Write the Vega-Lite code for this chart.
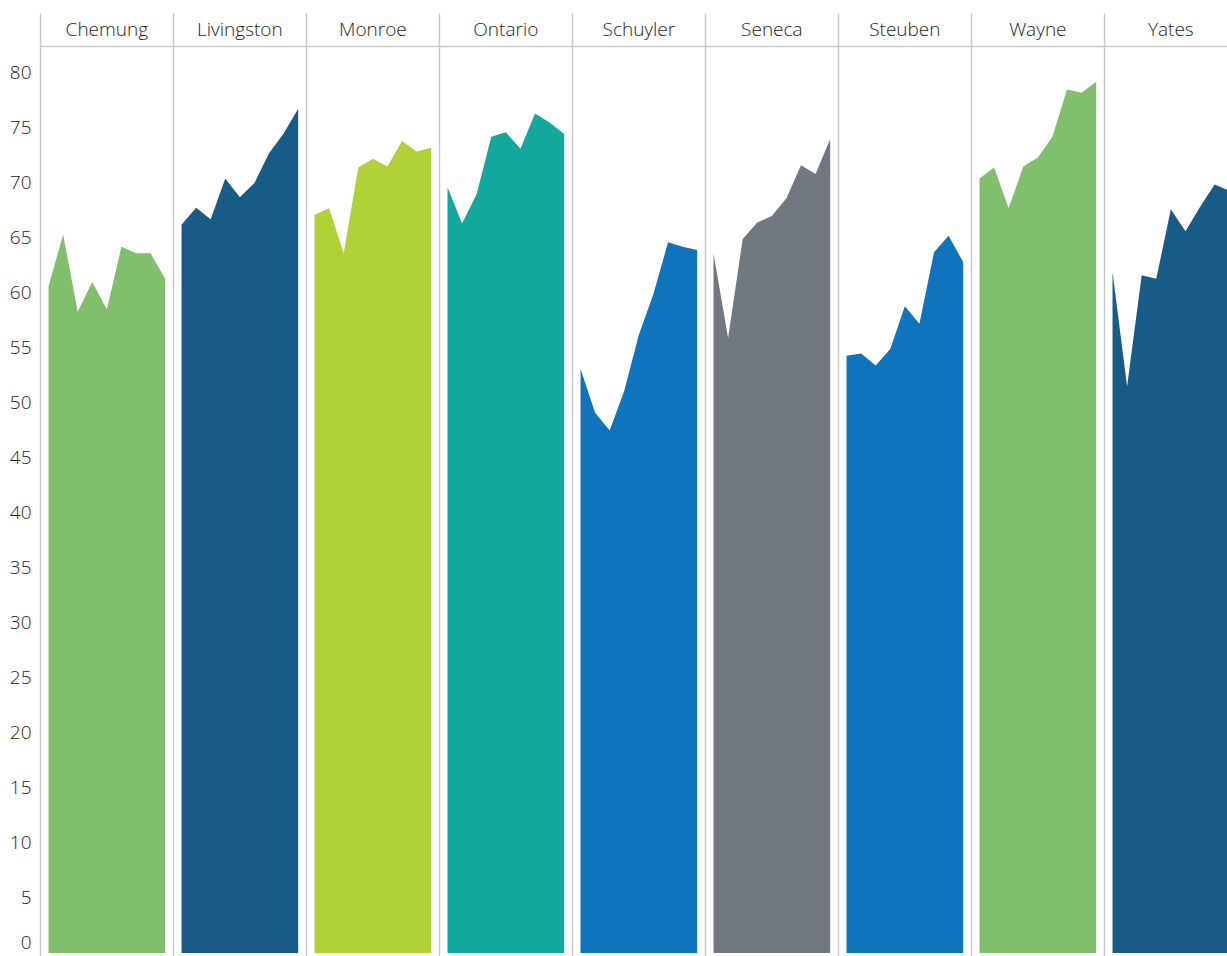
{
  "$schema": "https://vega.github.io/schema/vega-lite/v6.json",
  "padding": {"left": 8.5, "top": 12.5, "right": 0, "bottom": 0},
  "background": "white",
  "data": {"values": [
    {"county": "Chemung", "year": 2010, "value": 60.6},
    {"county": "Chemung", "year": 2011, "value": 65.3},
    {"county": "Chemung", "year": 2012, "value": 58.3},
    {"county": "Chemung", "year": 2013, "value": 61.0},
    {"county": "Chemung", "year": 2014, "value": 58.5},
    {"county": "Chemung", "year": 2015, "value": 64.2},
    {"county": "Chemung", "year": 2016, "value": 63.6},
    {"county": "Chemung", "year": 2017, "value": 63.6},
    {"county": "Chemung", "year": 2018, "value": 61.3},
    {"county": "Livingston", "year": 2010, "value": 66.2},
    {"county": "Livingston", "year": 2011, "value": 67.75},
    {"county": "Livingston", "year": 2012, "value": 66.7},
    {"county": "Livingston", "year": 2013, "value": 70.4},
    {"county": "Livingston", "year": 2014, "value": 68.7},
    {"county": "Livingston", "year": 2015, "value": 70.0},
    {"county": "Livingston", "year": 2016, "value": 72.7},
    {"county": "Livingston", "year": 2017, "value": 74.5},
    {"county": "Livingston", "year": 2018, "value": 76.75},
    {"county": "Monroe", "year": 2010, "value": 67.1},
    {"county": "Monroe", "year": 2011, "value": 67.7},
    {"county": "Monroe", "year": 2012, "value": 63.6},
    {"county": "Monroe", "year": 2013, "value": 71.4},
    {"county": "Monroe", "year": 2014, "value": 72.2},
    {"county": "Monroe", "year": 2015, "value": 71.5},
    {"county": "Monroe", "year": 2016, "value": 73.8},
    {"county": "Monroe", "year": 2017, "value": 72.85},
    {"county": "Monroe", "year": 2018, "value": 73.2},
    {"county": "Ontario", "year": 2010, "value": 69.6},
    {"county": "Ontario", "year": 2011, "value": 66.3},
    {"county": "Ontario", "year": 2012, "value": 69.0},
    {"county": "Ontario", "year": 2013, "value": 74.2},
    {"county": "Ontario", "year": 2014, "value": 74.6},
    {"county": "Ontario", "year": 2015, "value": 73.1},
    {"county": "Ontario", "year": 2016, "value": 76.3},
    {"county": "Ontario", "year": 2017, "value": 75.5},
    {"county": "Ontario", "year": 2018, "value": 74.45},
    {"county": "Schuyler", "year": 2010, "value": 53.1},
    {"county": "Schuyler", "year": 2011, "value": 49.1},
    {"county": "Schuyler", "year": 2012, "value": 47.5},
    {"county": "Schuyler", "year": 2013, "value": 51.1},
    {"county": "Schuyler", "year": 2014, "value": 56.2},
    {"county": "Schuyler", "year": 2015, "value": 59.9},
    {"county": "Schuyler", "year": 2016, "value": 64.6},
    {"county": "Schuyler", "year": 2017, "value": 64.2},
    {"county": "Schuyler", "year": 2018, "value": 63.9},
    {"county": "Seneca", "year": 2010, "value": 63.6},
    {"county": "Seneca", "year": 2011, "value": 55.9},
    {"county": "Seneca", "year": 2012, "value": 64.9},
    {"county": "Seneca", "year": 2013, "value": 66.4},
    {"county": "Seneca", "year": 2014, "value": 67.0},
    {"county": "Seneca", "year": 2015, "value": 68.6},
    {"county": "Seneca", "year": 2016, "value": 71.6},
    {"county": "Seneca", "year": 2017, "value": 70.8},
    {"county": "Seneca", "year": 2018, "value": 74.0},
    {"county": "Steuben", "year": 2010, "value": 54.3},
    {"county": "Steuben", "year": 2011, "value": 54.5},
    {"county": "Steuben", "year": 2012, "value": 53.4},
    {"county": "Steuben", "year": 2013, "value": 54.9},
    {"county": "Steuben", "year": 2014, "value": 58.8},
    {"county": "Steuben", "year": 2015, "value": 57.2},
    {"county": "Steuben", "year": 2016, "value": 63.7},
    {"county": "Steuben", "year": 2017, "value": 65.2},
    {"county": "Steuben", "year": 2018, "value": 62.8},
    {"county": "Wayne", "year": 2010, "value": 70.4},
    {"county": "Wayne", "year": 2011, "value": 71.4},
    {"county": "Wayne", "year": 2012, "value": 67.7},
    {"county": "Wayne", "year": 2013, "value": 71.5},
    {"county": "Wayne", "year": 2014, "value": 72.3},
    {"county": "Wayne", "year": 2015, "value": 74.2},
    {"county": "Wayne", "year": 2016, "value": 78.5},
    {"county": "Wayne", "year": 2017, "value": 78.2},
    {"county": "Wayne", "year": 2018, "value": 79.2},
    {"county": "Yates", "year": 2010, "value": 61.9},
    {"county": "Yates", "year": 2011, "value": 51.5},
    {"county": "Yates", "year": 2012, "value": 61.6},
    {"county": "Yates", "year": 2013, "value": 61.3},
    {"county": "Yates", "year": 2014, "value": 67.6},
    {"county": "Yates", "year": 2015, "value": 65.6},
    {"county": "Yates", "year": 2016, "value": 67.8},
    {"county": "Yates", "year": 2017, "value": 69.85},
    {"county": "Yates", "year": 2018, "value": 69.3}
  ]},
  "facet": {"column": {"field": "county", "type": "nominal", "header": null,
    "sort": ["Chemung", "Livingston", "Monroe", "Ontario", "Schuyler", "Seneca", "Steuben", "Wayne", "Yates"]}},
  "spacing": 0,
  "bounds": "flush",
  "spec": {
    "width": 132.7,
    "height": 912,
    "layer": [
      {
        "mark": {"type": "area", "interpolate": "linear"},
        "encoding": {
          "x": {"field": "year", "type": "quantitative", "axis": null,
                "scale": {"domain": [2009.45, 2018.55], "nice": false, "zero": false}},
          "y": {"field": "value", "type": "quantitative",
                "scale": {"domain": [-0.5, 82.4], "nice": false, "zero": false},
                "axis": {"title": null, "values": [0,5,10,15,20,25,30,35,40,45,50,55,60,65,70,75,80],
                         "domain": false, "ticks": false, "tickSize": 0, "grid": false,
                         "labelFont": "Open Sans", "labelFontWeight": 300, "labelFontSize": 19, "labelColor": "#1e1e1e",
                         "labelPadding": 9.5, "labelFlush": 8}},
          "y2": {"datum": 0},
          "color": {"field": "county", "type": "nominal", "legend": null,
                    "scale": {"domain": ["Chemung", "Livingston", "Monroe", "Ontario", "Schuyler", "Seneca", "Steuben", "Wayne", "Yates"],
                              "range": ["#80c06c", "#185b86", "#b0d236", "#13a89e", "#1074bc", "#71787f", "#1074bc", "#80c06c", "#185b86"]}}
        }
      },
      {
        "transform": [{"filter": "datum.year == 2010"}],
        "mark": {"type": "rule", "color": "#c9c9cd", "strokeWidth": 1.5},
        "encoding": {
          "x": {"datum": 2009.45, "type": "quantitative", "axis": null},
          "y": {"datum": 85.4, "type": "quantitative"},
          "y2": {"datum": -0.5}
        }
      },
      {
        "transform": [{"filter": "datum.year == 2010"}],
        "mark": {"type": "rule", "color": "#c9c9cd", "strokeWidth": 1.5},
        "encoding": {
          "x": {"datum": 2009.45, "type": "quantitative", "axis": null},
          "x2": {"datum": 2018.55},
          "y": {"datum": 82.4, "type": "quantitative"}
        }
      },
      {
        "transform": [{"filter": "datum.year == 2010"}],
        "mark": {"type": "text", "font": "Open Sans", "fontWeight": 300, "fontSize": 19, "color": "#1e1e1e", "baseline": "middle", "align": "center"},
        "encoding": {
          "x": {"datum": 2014, "type": "quantitative", "axis": null},
          "y": {"datum": 83.9, "type": "quantitative"},
          "text": {"field": "county", "type": "nominal"}
        }
      }
    ]
  },
  "config": {"view": {"stroke": null}}
}
